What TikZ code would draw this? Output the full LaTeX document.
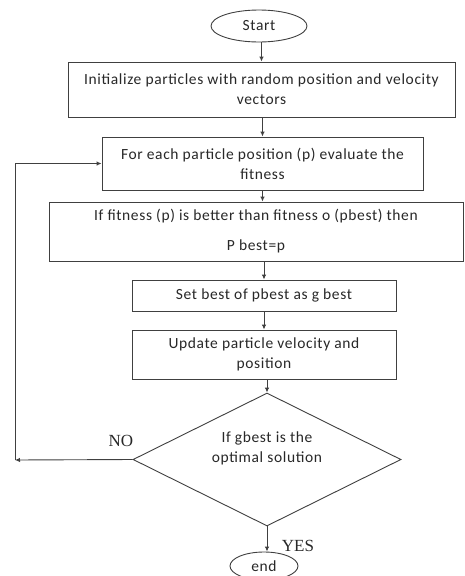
\documentclass[tikz,border=0pt]{standalone}
\usepackage{fontspec}
\setmainfont{Carlito}[LetterSpace=4]
\newfontfamily\timesf{Liberation Serif}
\usetikzlibrary{shapes.geometric,arrows.meta}
\definecolor{linec}{HTML}{404040}
\definecolor{txtc}{HTML}{282828}
\tikzset{
  box/.style={draw=linec, line width=0.9pt, rectangle, inner sep=0pt, align=center, text=txtc,
    font=\fontsize{15.5}{20}\selectfont},
  term/.style={draw=linec, line width=0.9pt, ellipse, inner sep=0pt, text=txtc,
    font=\fontsize{15.5}{20}\selectfont},
  arr/.style={draw=linec, line width=0.9pt, -{Latex[length=5pt,width=4.5pt]}},
  yn/.style={font=\timesf\fontsize{17}{20}\selectfont, text=txtc, inner sep=0pt}
}
\begin{document}
\begin{tikzpicture}[x=1pt,y=-1pt]
\useasboundingbox[fill=white] (0,0) rectangle (464,576);
\node[term, minimum width=96pt, minimum height=32pt] (start) at (259,26) {Start};
\node[box, minimum width=387pt, minimum height=55pt] (init) at (261.5,89.5)
  {Initialize particles with random position and velocity\\vectors};
\node[box, minimum width=321pt, minimum height=53pt] (fit) at (262.5,163.5)
  {For each particle position (p) evaluate the\\fitness};
\node[box, minimum width=414pt, minimum height=59pt] (iff) at (256,231.5)
  {If fitness (p) is better than fitness o (pbest) then\\[10pt]P best=p};
\node[box, minimum width=264pt, minimum height=31pt] (setb) at (264,295.5)
  {Set best of pbest as g best};
\node[box, minimum width=264pt, minimum height=49pt] (upd) at (264,354.5)
  {Update particle velocity and\\position};
\node[draw=linec, line width=0.9pt, diamond, inner sep=0pt, minimum width=268pt, minimum height=133pt] (dia) at (267,459.5) {};
\node[align=center, text=txtc, font=\fontsize{15.5}{20}\selectfont, inner sep=0pt] (dtext) at (267,448)
  {If gbest is the\\optimal solution};
\node[term, minimum width=68pt, minimum height=28pt] (end) at (264,566) {end};
\node[yn] (no) at (121,441) {NO};
\node[yn] (yes) at (298,546) {YES};
\coordinate (lp) at (15,460);
\draw[arr] (start.south -| init.north) -- (init.north);
\draw[arr] (init.south -| fit.north) -- (fit.north);
\draw[arr] (fit.south) -- (fit.south |- iff.north);
\draw[arr] (iff.south -| setb.north) -- (setb.north);
\draw[arr] (setb.south) -- (upd.north);
\draw[arr] (upd.south -| dia.north) -- (dia.north);
\draw[arr] (dia.south) -- (dia.south |- end.north);
\draw[arr] (dia.west) -- (lp);
\draw[arr] (lp) |- (fit.west);
\end{tikzpicture}
\end{document}
